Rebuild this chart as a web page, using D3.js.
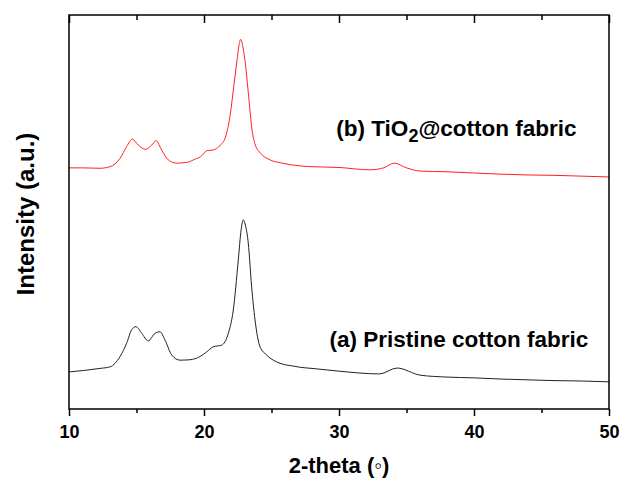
<!DOCTYPE html>
<html>
<head>
<meta charset="utf-8">
<script src="https://cdn.jsdelivr.net/npm/d3@7"></script>
<style>
  body { margin: 0; background: #fff; }
  text { font-family: "Liberation Sans", Arial, sans-serif; font-weight: bold; }
</style>
</head>
<body>
<svg width="621" height="479"></svg>
<script>
// 2-theta (deg) and intensity (a.u.)
const redTheta = [10, 11, 12.3, 13.04, 13.78, 14.27, 14.69, 15.13, 15.68, 16.13, 16.44, 16.87, 17.36, 17.98, 18.72,
  19.46, 19.74, 20.24, 20.61, 21.22, 21.59, 21.96, 22.2, 22.45, 22.58, 22.72, 22.88, 23.06, 23.31, 23.56, 23.8,
  24.17, 24.91, 25.65, 27.1, 28, 30, 32.3, 33.3, 34.1, 35, 36, 38, 40, 42, 44, 46, 48, 50];
const redInt = [61.2, 61.2, 61.1, 61.5, 63.6, 66.6, 68.5, 67.0, 65.9, 67.0, 68.1, 65.7, 63.2, 62.4, 62.6,
  63.6, 64.0, 65.6, 65.7, 67.0, 69.0, 75.1, 81.8, 88.6, 92.1, 93.8, 91.9, 87.8, 79.3, 70.8, 67.0,
  65.0, 63.2, 62.5, 61.7, 61.5, 61.3, 60.7, 61.2, 62.4, 61.2, 60.4, 60.2, 59.9, 59.6, 59.4, 59.3, 59.1, 58.9];

const blackTheta = [10, 12.3, 13.04, 13.78, 14.27, 14.64, 14.96, 15.39, 15.87, 16.37, 16.74, 17.11, 17.61, 18.22,
  18.96, 19.7, 20.2, 20.69, 21.31, 21.8, 22.17, 22.54, 22.75, 22.91, 23.08, 23.28, 23.53, 23.78, 24.15, 24.64,
  25.63, 26.6, 27.1, 28, 30, 33, 34.3, 36, 38, 40, 42, 44, 46, 48, 50];
const blackInt = [9.4, 10.3, 10.7, 13.3, 16.7, 20.1, 20.9, 19.2, 17.3, 19.2, 19.6, 17.5, 13.7, 12.4,
  12.5, 13.3, 14.5, 15.8, 16.2, 19.2, 25.1, 37.8, 45.5, 48.0, 46.5, 42.1, 31.0, 22.6, 15.8, 13.7,
  11.6, 10.9, 10.6, 10.3, 9.6, 8.9, 10.4, 8.6, 8.1, 7.9, 7.6, 7.4, 7.2, 7.1, 6.9];

const xTicks = [10, 20, 30, 40, 50];
const xMinor = [15, 25, 35, 45];

const margin = { left: 69, right: 12, top: 15, bottom: 70 };
const svg = d3.select("svg");
const width = +svg.attr("width");
const height = +svg.attr("height");
const innerWidth = width - margin.left - margin.right;
const innerHeight = height - margin.top - margin.bottom;
const g = svg.append("g").attr("transform", `translate(${margin.left},${margin.top})`);

const xScale = d3.scaleLinear().domain([10, 50]).range([0, innerWidth]);
const yScale = d3.scaleLinear().domain([0, 100]).range([innerHeight, 0]);

const line = d3.line()
  .x(d => xScale(d[0]))
  .y(d => yScale(d[1]))
  .curve(d3.curveMonotoneX);

g.append("path")
  .datum(d3.zip(blackTheta, blackInt))
  .attr("fill", "none")
  .attr("stroke", "#222")
  .attr("stroke-width", 1)
  .attr("d", line);

g.append("path")
  .datum(d3.zip(redTheta, redInt))
  .attr("fill", "none")
  .attr("stroke", "#ff2020")
  .attr("stroke-width", 1)
  .attr("d", line);

// frame
g.append("rect")
  .attr("width", innerWidth)
  .attr("height", innerHeight)
  .attr("fill", "none")
  .attr("stroke", "#000")
  .attr("stroke-width", 1.5);

// bottom axis: outward ticks
const xAxisG = g.append("g").attr("transform", `translate(0,${innerHeight})`);
xAxisG.call(d3.axisBottom(xScale).tickValues(xTicks).tickSize(7).tickPadding(9).tickFormat(d3.format("d")));
const xMinorG = g.append("g").attr("transform", `translate(0,${innerHeight})`);
xMinorG.call(d3.axisBottom(xScale).tickValues(xMinor).tickSize(4).tickFormat(""));

// top axis: inward ticks
const topAxisG = g.append("g");
topAxisG.call(d3.axisTop(xScale).tickValues(xTicks).tickSize(-8).tickFormat(""));
const topMinorG = g.append("g");
topMinorG.call(d3.axisTop(xScale).tickValues(xMinor).tickSize(-5).tickFormat(""));

g.selectAll(".domain").remove();
g.selectAll(".tick line").attr("stroke", "#000").attr("stroke-width", 1.5);
xAxisG.selectAll("text")
  .attr("fill", "#000")
  .style("font-size", "18px")
  .style("font-family", "Liberation Sans, Arial, sans-serif")
  .style("font-weight", "bold");

// series labels
const labB = g.append("text")
  .attr("x", xScale(29.8))
  .attr("y", yScale(69.3))
  .style("font-size", "22.5px")
  .attr("fill", "#000");
labB.append("tspan").text("(b) TiO");
labB.append("tspan").attr("dy", 6).style("font-size", "18px").text("2");
labB.append("tspan").attr("dy", -6).text("@cotton fabric");

g.append("text")
  .attr("x", xScale(29.3))
  .attr("y", yScale(15.8))
  .style("font-size", "22.5px")
  .attr("fill", "#000")
  .text("(a) Pristine cotton fabric");

// axis titles
svg.append("text")
  .attr("x", margin.left + innerWidth / 2)
  .attr("y", 473)
  .attr("text-anchor", "middle")
  .style("font-size", "22px")
  .text("2-theta (\u25E6)");

svg.append("text")
  .attr("transform", "rotate(-90)")
  .attr("x", -214)
  .attr("y", 34)
  .attr("text-anchor", "middle")
  .style("font-size", "24px")
  .text("Intensity (a.u.)");
</script>
</body>
</html>
